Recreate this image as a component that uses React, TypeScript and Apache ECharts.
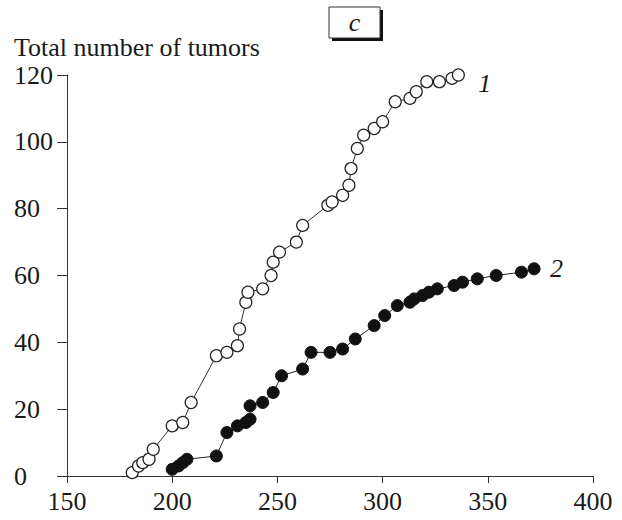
import React, { useEffect, useRef } from "react";
import * as echarts from "echarts";

const xTicks = [150, 200, 250, 300, 350, 400];
const yTicks = [0, 20, 40, 60, 80, 100, 120];

const days1 = [181, 184, 186, 189, 191, 200, 205, 209, 221, 226, 231, 232, 235, 236, 243, 247, 248, 251, 259, 262, 274, 276, 281, 284, 285, 288, 291, 296, 300, 306, 313, 316, 321, 327, 333, 336];
const tumors1 = [1, 3, 4, 5, 8, 15, 16, 22, 36, 37, 39, 44, 52, 55, 56, 60, 64, 67, 70, 75, 81, 82, 84, 87, 92, 98, 102, 104, 106, 112, 113, 115, 118, 118, 119, 120];

const days2 = [200, 203, 205, 207, 221, 226, 231, 235, 237, 237, 243, 248, 252, 262, 266, 275, 281, 287, 296, 301, 307, 313, 315, 319, 322, 326, 334, 338, 345, 354, 366, 372];
const tumors2 = [2, 3, 4, 5, 6, 13, 15, 16, 17, 21, 22, 25, 30, 32, 37, 37, 38, 41, 45, 48, 51, 52, 53, 54, 55, 56, 57, 58, 59, 60, 61, 62];

const yAxisTitle = "Total number of tumors";
const panelLabel = "c";
const seriesNames = ["1", "2"];

const FONT = "'Liberation Serif', 'Times New Roman', serif";
const INK = "#1a1a1a";

export default function App() {
  const ref = useRef<HTMLDivElement>(null);
  useEffect(() => {
    if (!ref.current) return;
    const chart = echarts.init(ref.current, undefined, { renderer: "svg" });
    const pairs = (xs: number[], ys: number[]) => xs.map((x, i) => [x, ys[i]]);
    const endLabel = (txt: string, offset: number[]) => ({
      show: true,
      formatter: txt,
      fontFamily: FONT,
      fontStyle: "italic",
      fontSize: 26,
      color: INK,
      distance: 14,
      offset,
    });
    chart.setOption({
      animation: false,
      backgroundColor: "#ffffff",
      grid: { left: 67, right: 29, top: 75, bottom: 44, containLabel: false },
      xAxis: {
        type: "value",
        min: xTicks[0],
        max: xTicks[xTicks.length - 1],
        interval: 50,
        splitLine: { show: false },
        axisLine: { show: true, lineStyle: { color: "#333", width: 1 } },
        axisTick: { show: true, length: 7, lineStyle: { color: "#333", width: 1 } },
        axisLabel: { fontFamily: FONT, fontSize: 26, color: INK, margin: 12 },
      },
      yAxis: {
        type: "value",
        min: yTicks[0],
        max: yTicks[yTicks.length - 1],
        interval: 20,
        splitLine: { show: false },
        axisLine: { show: true, lineStyle: { color: "#333", width: 1 } },
        axisTick: { show: true, length: 10, lineStyle: { color: "#333", width: 1 } },
        axisLabel: { fontFamily: FONT, fontSize: 26, color: INK, margin: 53, align: "left", lineHeight: 22 },
      },
      graphic: [
        { type: "rect", shape: { x: 332, y: 10, width: 51, height: 31 }, style: { fill: "#111" }, z: 10 },
        { type: "rect", shape: { x: 329, y: 7, width: 51, height: 31 }, style: { fill: "#fff", stroke: "#333", lineWidth: 1 }, z: 11 },
        {
          type: "text",
          x: 354.5,
          y: 22,
          z: 12,
          style: { text: panelLabel, fontFamily: FONT, fontStyle: "italic", fontSize: 26, fill: INK, align: "center", verticalAlign: "middle" },
        },
        {
          type: "text",
          x: 14,
          y: 47,
          z: 12,
          style: { text: yAxisTitle, fontFamily: FONT, fontSize: 26, lineHeight: 22, fill: INK, align: "left", verticalAlign: "middle" },
        },
      ],
      series: [
        {
          type: "line",
          name: seriesNames[0],
          data: pairs(days1, tumors1),
          symbol: "circle",
          symbolSize: 12,
          clip: false,
          lineStyle: { color: "#333", width: 1 },
          itemStyle: { color: "#fff", borderColor: "#222", borderWidth: 1.2 },
          endLabel: endLabel(seriesNames[0], [6, 8]),
          z: 3,
        },
        {
          type: "line",
          name: seriesNames[1],
          data: pairs(days2, tumors2),
          symbol: "circle",
          symbolSize: 12,
          clip: false,
          lineStyle: { color: "#222", width: 1 },
          itemStyle: { color: "#111", borderColor: "#111", borderWidth: 1 },
          endLabel: endLabel(seriesNames[1], [2, 0]),
          z: 4,
        },
      ],
    });
    return () => chart.dispose();
  }, []);
  return <div ref={ref} style={{ position: "absolute", left: 0, top: 0, width: 622, height: 520 }} />;
}
